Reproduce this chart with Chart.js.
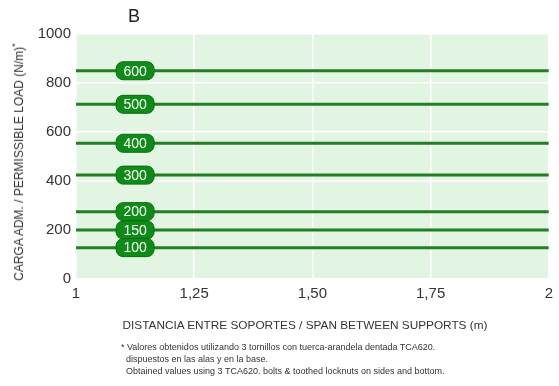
<!DOCTYPE html>
<html>
<head>
<meta charset="utf-8">
<script src="https://cdn.jsdelivr.net/npm/chart.js@4/dist/chart.umd.min.js"></script>
<style>
  html, body { margin: 0; padding: 0; background: #fff; }
  #wrap { position: relative; width: 559px; height: 386px; overflow: hidden; font-family: "Liberation Sans", Arial, sans-serif; color: #333; }
  #wrap canvas { position: absolute; left: 0; top: 0; }
  .txt { position: absolute; white-space: nowrap; }
  #panel { left: 128px; top: 6px; font-size: 18px; color: #222; }
  #ytitle { left: 18px; top: 162px; font-size: 12px; transform: translate(-50%, -50%) rotate(-90deg); }
  #ytitle sup { font-size: 9px; }
  #xtitle { left: 305px; top: 318px; font-size: 11.8px; transform: translateX(-50%); }
  #note { left: 121px; top: 341px; font-size: 9px; line-height: 12px; }
  #note .ind { padding-left: 5px; }
</style>
</head>
<body>
<div id="wrap">
  <canvas id="c" width="559" height="386"></canvas>
  <div class="txt" id="panel">B</div>
  <div class="txt" id="ytitle">CARGA ADM. / PERMISSIBLE LOAD (N/m)<sup>*</sup></div>
  <div class="txt" id="xtitle">DISTANCIA ENTRE SOPORTES / SPAN BETWEEN SUPPORTS (m)</div>
  <div class="txt" id="note">
    <div>* Valores obtenidos utilizando 3 tornillos con tuerca-arandela dentada TCA620.</div>
    <div class="ind">dispuestos en las alas y en la base.</div>
    <div class="ind">Obtained values using 3 TCA620. bolts &amp; toothed locknuts on sides and bottom.</div>
  </div>
</div>
<script>
// Tray sizes and their permissible load (N/m), constant over the span range
const sizes = ['600', '500', '400', '300', '200', '150', '100'];
const loads = [850, 713, 554, 424, 275, 200, 128];
const spanRange = [1, 2];
const xTickValues = [1, 1.25, 1.5, 1.75, 2];
const xTickLabels = ['1', '1,25', '1,50', '1,75', '2'];
const yTickValues = [0, 200, 400, 600, 800, 1000];
const yTickLabels = ['0', '200', '400', '600', '800', '1000'];
const labelAtSpan = 1.125;

const LINE = '#237d23';
const BADGE = '#0f8c17';
const BADGE_EDGE = '#0b6e12';
const AREA = '#e2f5e2';

const datasets = sizes.map((s, i) => ({
  label: s,
  data: spanRange.map(x => ({ x: x, y: loads[i] })),
  borderColor: LINE,
  borderWidth: 3,
  pointRadius: 0,
  fill: false,
  tension: 0
}));

const areaBg = {
  id: 'areaBg',
  beforeDraw(chart) {
    const a = chart.chartArea, ctx = chart.ctx;
    ctx.save();
    ctx.fillStyle = AREA;
    ctx.fillRect(a.left, a.top, a.right - a.left, a.bottom - a.top);
    ctx.restore();
  }
};

function roundRect(ctx, x, y, w, h, r) {
  ctx.beginPath();
  ctx.moveTo(x + r, y);
  ctx.lineTo(x + w - r, y);
  ctx.arcTo(x + w, y, x + w, y + r, r);
  ctx.lineTo(x + w, y + h - r);
  ctx.arcTo(x + w, y + h, x + w - r, y + h, r);
  ctx.lineTo(x + r, y + h);
  ctx.arcTo(x, y + h, x, y + h - r, r);
  ctx.lineTo(x, y + r);
  ctx.arcTo(x, y, x + r, y, r);
  ctx.closePath();
}

// Size badges sitting on each load line
const badges = {
  id: 'badges',
  afterDatasetsDraw(chart) {
    const ctx = chart.ctx, xs = chart.scales.x, ys = chart.scales.y;
    ctx.save();
    chart.data.datasets.forEach((ds, i) => {
      const cx = xs.getPixelForValue(labelAtSpan);
      const cy = ys.getPixelForValue(loads[i]);
      const w = 38, h = 18;
      roundRect(ctx, cx - w / 2, cy - h / 2, w, h, 7);
      ctx.fillStyle = BADGE;
      ctx.fill();
      ctx.lineWidth = 1;
      ctx.strokeStyle = BADGE_EDGE;
      ctx.stroke();
      ctx.fillStyle = '#ffffff';
      ctx.font = '14px "Liberation Sans", Arial, sans-serif';
      ctx.textAlign = 'center';
      ctx.textBaseline = 'middle';
      ctx.fillText(ds.label, cx, cy + 1);
    });
    ctx.restore();
  }
};

new Chart(document.getElementById('c'), {
  type: 'line',
  data: { datasets: datasets },
  plugins: [areaBg, badges],
  options: {
    responsive: false,
    animation: false,
    layout: { padding: { top: 34, right: 7, left: 0, bottom: 0 } },
    plugins: { legend: { display: false }, tooltip: { enabled: false } },
    scales: {
      x: {
        type: 'linear',
        min: spanRange[0],
        max: spanRange[1],
        afterBuildTicks(scale) { scale.ticks = xTickValues.map(v => ({ value: v })); },
        afterFit(scale) { scale.height = 107; },
        ticks: {
          padding: 6,
          color: '#333',
          font: { family: '"Liberation Sans", Arial, sans-serif', size: 15 },
          maxRotation: 0,
          callback(v) { const k = xTickValues.indexOf(v); return k >= 0 ? xTickLabels[k] : ''; }
        },
        grid: { color: '#ffffff', lineWidth: 1.5, drawTicks: false },
        border: { display: false }
      },
      y: {
        min: 0,
        max: 1000,
        afterBuildTicks(scale) { scale.ticks = yTickValues.map(v => ({ value: v })); },
        afterFit(scale) { scale.width = 76; },
        ticks: {
          padding: 5,
          color: '#333',
          font: { family: '"Liberation Sans", Arial, sans-serif', size: 15 },
          callback(v) { const k = yTickValues.indexOf(v); return k >= 0 ? yTickLabels[k] : ''; }
        },
        grid: { color: '#ffffff', lineWidth: 1.5, drawTicks: false },
        border: { display: false }
      }
    }
  }
});
</script>
</body>
</html>
